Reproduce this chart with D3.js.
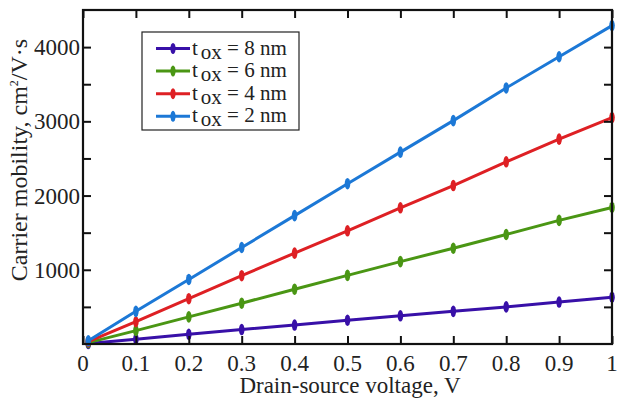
<!DOCTYPE html>
<html>
<head>
<meta charset="utf-8">
<script src="https://cdn.jsdelivr.net/npm/d3@7"></script>
<style>
  body { margin: 0; background: #fff; }
  text { font-family: "Liberation Serif", "DejaVu Serif", serif; fill: #222; }
</style>
</head>
<body>
<div id="chart"></div>
<script>
// values
var voltage = [0.01, 0.1, 0.2, 0.3, 0.4, 0.5, 0.6, 0.7, 0.8, 0.9, 1.0];
var mob8nm = [6, 63, 130, 195, 255, 320, 380, 440, 500, 565, 630];
var mob6nm = [18, 180, 365, 550, 738, 925, 1110, 1290, 1475, 1665, 1840];
var mob4nm = [31, 300, 610, 920, 1225, 1525, 1835, 2135, 2455, 2760, 3050];
var mob2nm = [43, 440, 870, 1300, 1730, 2160, 2585, 3010, 3450, 3870, 4290];
var seriesNames = ["8 nm", "6 nm", "4 nm", "2 nm"];
var seriesColors = ["#3810a8", "#4a9614", "#de2024", "#1c78d6"];
var xTicks = [0, 0.1, 0.2, 0.3, 0.4, 0.5, 0.6, 0.7, 0.8, 0.9, 1];
var yTicks = [1000, 2000, 3000, 4000];

(function() {
  var width = 618, height = 401;
  var mLeft = 83, mRight = 612, mTop = 10, mBottom = 344;

  var series = [mob8nm, mob6nm, mob4nm, mob2nm].map(function(vals, i) {
    return {
      name: seriesNames[i],
      color: seriesColors[i],
      points: vals.map(function(v, j) { return [voltage[j], v]; })
    };
  });

  var x = d3.scaleLinear().domain([0, 1]).range([mLeft, mRight]);
  var y = d3.scaleLinear().domain([0, 4500]).range([mBottom, mTop]);

  var svg = d3.select("#chart").append("svg")
    .attr("width", width)
    .attr("height", height);

  var line = d3.line()
    .x(function(d) { return x(d[0]); })
    .y(function(d) { return y(d[1]); });

  // curves
  var g = svg.append("g");
  series.forEach(function(s) {
    g.append("path")
      .datum(s.points)
      .attr("d", line)
      .attr("fill", "none")
      .attr("stroke", s.color)
      .attr("stroke-width", 3);
    g.selectAll(null)
      .data(s.points)
      .enter().append("ellipse")
      .attr("cx", function(d) { return x(d[0]); })
      .attr("cy", function(d) { return y(d[1]); })
      .attr("rx", 2.8)
      .attr("ry", 5.8)
      .attr("fill", s.color);
  });

  // axes with inward ticks
  var minorY = d3.range(500, 4500, 500);
  svg.append("g")
    .attr("transform", "translate(" + mLeft + ",0)")
    .call(d3.axisRight(y).tickValues(minorY).tickSize(8).tickFormat(""));
  svg.append("g")
    .attr("transform", "translate(" + mRight + ",0)")
    .call(d3.axisLeft(y).tickValues(minorY).tickSize(8).tickFormat(""));
  svg.append("g")
    .attr("transform", "translate(0," + mBottom + ")")
    .call(d3.axisTop(x).tickValues(xTicks).tickSize(8).tickFormat(""));
  svg.append("g")
    .attr("transform", "translate(0," + mTop + ")")
    .call(d3.axisBottom(x).tickValues(xTicks).tickSize(8).tickFormat(""));
  svg.selectAll(".domain").remove();
  svg.selectAll(".tick line").attr("stroke", "#111").attr("stroke-width", 2);

  svg.append("rect")
    .attr("x", mLeft).attr("y", mTop)
    .attr("width", mRight - mLeft).attr("height", mBottom - mTop)
    .attr("fill", "none")
    .attr("stroke", "#111")
    .attr("stroke-width", 2.2);

  // tick labels
  svg.selectAll(".xlab")
    .data(xTicks)
    .enter().append("text")
    .attr("x", function(d) { return x(d); })
    .attr("y", 371)
    .attr("text-anchor", "middle")
    .attr("font-size", 23)
    .text(function(d) { return d; });

  svg.selectAll(".ylab")
    .data(yTicks)
    .enter().append("text")
    .attr("x", mLeft - 3)
    .attr("y", function(d) { return y(d) + 8; })
    .attr("text-anchor", "end")
    .attr("font-size", 23)
    .text(function(d) { return d; });

  // axis titles
  svg.append("text")
    .attr("x", 350)
    .attr("y", 393)
    .attr("text-anchor", "middle")
    .attr("font-size", 23)
    .text("Drain-source voltage, V");

  var yt = svg.append("text")
    .attr("transform", "translate(27,160) rotate(-90)")
    .attr("text-anchor", "middle")
    .attr("font-size", 24);
  yt.append("tspan").text("Carrier mobility, cm");
  yt.append("tspan").attr("font-size", 12).attr("dy", -9).text("2");
  yt.append("tspan").attr("dy", 9).text("/V\u00b7s");

  // legend
  var lg = svg.append("g");
  lg.append("rect")
    .attr("x", 142).attr("y", 32)
    .attr("width", 157).attr("height", 98)
    .attr("fill", "#fff")
    .attr("stroke", "#222")
    .attr("stroke-width", 1.2);

  series.forEach(function(s, i) {
    var ly = 48.5 + i * 22.6;
    lg.append("line")
      .attr("x1", 156).attr("x2", 190)
      .attr("y1", ly).attr("y2", ly)
      .attr("stroke", s.color)
      .attr("stroke-width", 3);
    lg.append("ellipse")
      .attr("cx", 173).attr("cy", ly)
      .attr("rx", 2.6).attr("ry", 5.5)
      .attr("fill", s.color);
    var t = lg.append("text")
      .attr("x", 192)
      .attr("y", ly + 6)
      .attr("font-size", 21);
    t.append("tspan").text("t");
    t.append("tspan").attr("dx", 3).attr("dy", 4).text("ox");
    t.append("tspan").attr("dy", -4).text(" = " + s.name);
  });
})();
</script>
</body>
</html>
